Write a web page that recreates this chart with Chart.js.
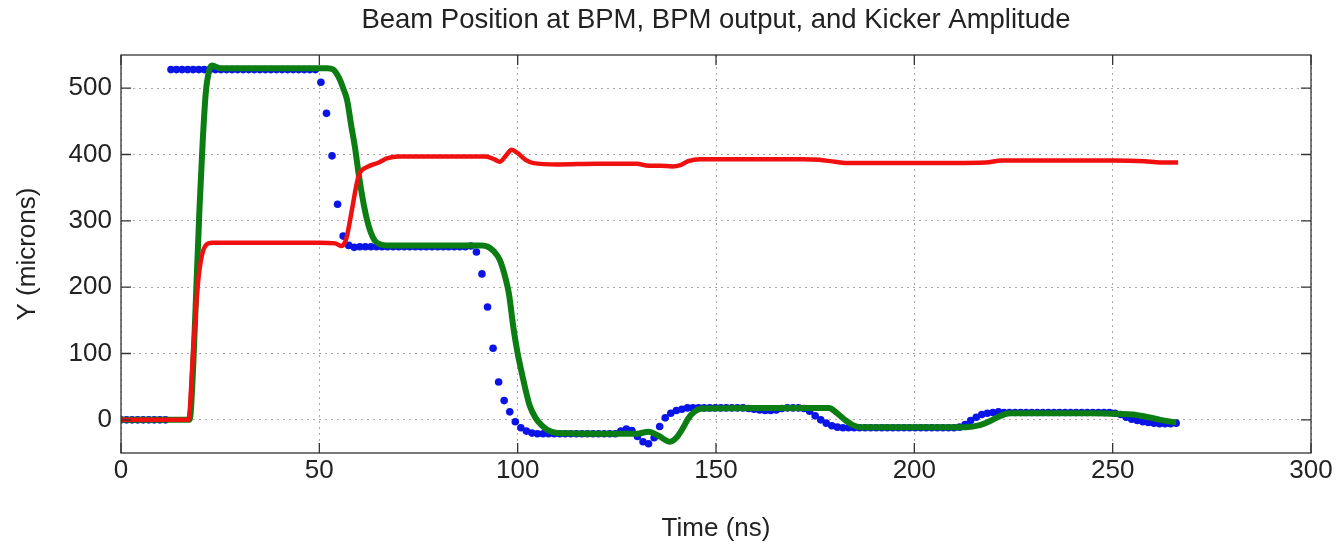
<!DOCTYPE html>
<html>
<head>
<meta charset="utf-8">
<title>Beam Position at BPM, BPM output, and Kicker Amplitude</title>
<script src="https://cdn.jsdelivr.net/npm/chart.js@4.4.1/dist/chart.umd.min.js"></script>
<style>
  html, body { margin: 0; padding: 0; background: #fff; }
  #wrap { width: 1341px; height: 547px; }
</style>
</head>
<body>
<div id="wrap"><canvas id="grafica" width="1341" height="547"></canvas></div>
<script>
// Ejes
const xTicks = [0, 50, 100, 150, 200, 250, 300];
const yTicks = [0, 100, 200, 300, 400, 500];

// Kicker (rojo, linea)
const rojoT = [0, 17.0, 18.2, 19.4, 20.4, 21.5, 23, 30, 40, 50, 54, 55.5, 56.5, 57, 58.2, 59.5, 60.2, 62, 65, 67, 70, 80, 92,
  94, 95.5, 97, 98.5, 100, 102, 104, 110, 120, 130, 133, 136, 139, 141, 143, 146, 155, 165, 172, 176, 180, 184,
  200, 218, 222, 230, 240, 250, 258, 262, 266.5];
const rojoY = [0, 0, 105, 206, 248, 264, 267, 267, 267, 267, 266, 262, 268, 278, 316, 358, 372, 381, 388, 394, 397, 397, 397,
  393, 389, 398, 407, 402, 392, 387, 385, 386, 386, 383, 383, 382, 384, 390, 393, 393, 393, 393, 392, 389, 387,
  387, 388, 391, 391, 391, 391, 390, 388, 388];

// Posicion del haz (verde, linea)
const verdeT = [0, 17.3, 18.2, 19, 19.8, 20.6, 21.4, 22.3, 23, 25, 40, 52, 53.5, 55, 56, 57, 58, 59, 60, 61, 62, 63, 64, 65.5, 67,
  80, 91, 92.5, 94, 95.5, 97, 97.8, 98.9, 100, 100.7, 102, 103, 104.5, 106, 107.5, 110, 120, 130, 133, 135.5, 138.4, 140,
  141.7, 143, 144.5, 146.5, 160, 170, 178.5, 180.5, 182.5, 184.5, 186.5, 200, 213, 216.5, 219, 221, 224, 235, 245, 251,
  255, 259, 262, 266];
const verdeY = [0, 0, 80, 200, 320, 420, 495, 528, 534, 530, 530, 530, 528, 515, 500, 482, 445, 410, 367, 331, 302, 282, 270, 264, 263,
  263, 263, 261, 254, 241, 212, 190, 140, 100, 80, 45, 22, 3, -8, -15, -20, -21, -21, -18, -24, -33, -27,
  -12, 2, 12, 17, 18, 18, 18, 10, 0, -8, -11, -11, -11, -8, -2, 4, 10, 10, 10, 9,
  8, 4, 0, -4];

// Salida del BPM (azul, puntos muestreados)
const azulT = [
  0, 1.4, 2.8, 4.2, 5.6, 7.0, 8.4, 9.8, 11.2, 12.6,
  14.0, 15.4, 16.8, 18.2, 19.6, 21.0, 22.4, 23.8, 25.2, 26.6,
  28.0, 29.4, 30.8, 32.2, 33.6, 35.0, 36.4, 37.8, 39.2, 40.6,
  42.0, 43.4, 44.8, 46.2, 47.6, 49.0, 50.4, 51.8, 53.2, 54.6,
  56.0, 57.4, 58.8, 60.2, 61.6, 63.0, 64.4, 65.8, 67.2, 68.6,
  70.0, 71.4, 72.8, 74.2, 75.6, 77.0, 78.4, 79.8, 81.2, 82.6,
  84.0, 85.4, 86.8, 88.2, 89.6, 91.0, 92.4, 93.8, 95.2, 96.6,
  98.0, 99.4, 100.8, 102.2, 103.6, 105.0, 106.4, 107.8, 109.2, 110.6,
  112.0, 113.4, 114.8, 116.2, 117.6, 119.0, 120.4, 121.8, 123.2, 124.6,
  126.0, 127.4, 128.8, 130.2, 131.6, 133.0, 134.4, 135.8, 137.2, 138.6,
  140.0, 141.4, 142.8, 144.2, 145.6, 147.0, 148.4, 149.8, 151.2, 152.6,
  154.0, 155.4, 156.8, 158.2, 159.6, 161.0, 162.4, 163.8, 165.2, 166.6,
  168.0, 169.4, 170.8, 172.2, 173.6, 175.0, 176.4, 177.8, 179.2, 180.6,
  182.0, 183.4, 184.8, 186.2, 187.6, 189.0, 190.4, 191.8, 193.2, 194.6,
  196.0, 197.4, 198.8, 200.2, 201.6, 203.0, 204.4, 205.8, 207.2, 208.6,
  210.0, 211.4, 212.8, 214.2, 215.6, 217.0, 218.4, 219.8, 221.2, 222.6,
  224.0, 225.4, 226.8, 228.2, 229.6, 231.0, 232.4, 233.8, 235.2, 236.6,
  238.0, 239.4, 240.8, 242.2, 243.6, 245.0, 246.4, 247.8, 249.2, 250.6,
  252.0, 253.4, 254.8, 256.2, 257.6, 259.0, 260.4, 261.8, 263.2, 264.6,
  266.0];
const azulY = [
  0, 0, 0, 0, 0, 0, 0, 0, 0, 528,
  528, 528, 528, 528, 528, 528, 528, 528, 528, 528,
  528, 528, 528, 528, 528, 528, 528, 528, 528, 528,
  528, 528, 528, 528, 528, 528, 509, 462, 398, 325,
  277, 263, 260, 261, 261, 261, 261, 261, 261, 261,
  261, 261, 261, 261, 261, 261, 261, 261, 261, 261,
  261, 261, 261, 262, 253, 220, 170, 108, 57, 29,
  12, -3, -12, -17, -20, -21, -21, -21, -21, -21,
  -21, -21, -21, -21, -21, -21, -21, -21, -21, -21,
  -17, -14, -16, -25, -33, -36, -27, -10, 3, 10,
  14, 16, 18, 18, 18, 18, 18, 18, 18, 18,
  18, 18, 18, 17, 16, 15, 14, 14, 15, 17,
  18, 18, 18, 17, 13, 6, 0, -5, -9, -11,
  -12, -12, -12, -12, -12, -12, -12, -12, -12, -12,
  -12, -12, -12, -12, -12, -12, -12, -12, -12, -12,
  -12, -11, -7, -1, 4, 8, 10, 11, 12, 11,
  11, 11, 11, 11, 11, 11, 11, 11, 11, 11,
  11, 11, 11, 11, 11, 11, 11, 11, 11, 10,
  8, 4, 1, -1, -3, -4, -5, -6, -6, -6,
  -5];

const fuente = "'Liberation Sans', Arial, sans-serif";
const pares = (ts, ys) => ts.map((t, i) => ({ x: t, y: ys[i] }));

// Marco de ejes con marcas hacia dentro (estilo MATLAB)
const marcoEjes = {
    id: 'marcoEjes',
    afterDatasetsDraw(chart) {
        const { ctx, chartArea: a, scales: { x, y } } = chart;
        ctx.save();
        ctx.strokeStyle = '#333';
        ctx.lineWidth = 1.3;
        ctx.strokeRect(a.left, a.top, a.right - a.left, a.bottom - a.top);
        ctx.beginPath();
        xTicks.forEach(v => {
            const px = x.getPixelForValue(v);
            ctx.moveTo(px, a.bottom); ctx.lineTo(px, a.bottom - 10);
            ctx.moveTo(px, a.top); ctx.lineTo(px, a.top + 10);
        });
        yTicks.forEach(v => {
            const py = y.getPixelForValue(v);
            ctx.moveTo(a.left, py); ctx.lineTo(a.left + 10, py);
            ctx.moveTo(a.right, py); ctx.lineTo(a.right - 10, py);
        });
        ctx.stroke();
        ctx.restore();
    }
};

const rejilla = { color: '#a8a8a8', lineWidth: 1, drawTicks: false };
const bordePunteado = { display: false, dash: [2, 4] };

new Chart(document.getElementById('grafica').getContext('2d'), {
    type: 'scatter',
    data: {
        datasets: [
            {
                label: 'Kicker',
                data: pares(rojoT, rojoY),
                showLine: true,
                borderColor: '#f01010',
                borderWidth: 4.5,
                pointRadius: 0,
                cubicInterpolationMode: 'monotone',
            },
            {
                label: 'Beam',
                data: pares(verdeT, verdeY),
                showLine: true,
                borderColor: '#0b7d12',
                borderWidth: 6,
                pointRadius: 0,
                cubicInterpolationMode: 'monotone',
            },
            {
                label: 'BPM',
                data: pares(azulT, azulY),
                showLine: false,
                pointRadius: 3.8,
                pointBorderWidth: 0,
                pointBackgroundColor: '#0a14e6',
                pointBorderColor: '#0a14e6',
            },
        ],
    },
    options: {
        responsive: false,
        animation: false,
        devicePixelRatio: 1,
        layout: { padding: { left: 0, right: 30, top: 0, bottom: 0 } },
        plugins: {
            legend: { display: false },
            tooltip: { enabled: false },
        },
        scales: {
            x: {
                type: 'linear',
                min: 0,
                max: 300,
                afterBuildTicks: s => { s.ticks = xTicks.map(v => ({ value: v })); },
                afterFit: s => { s.height = 94; },
                grid: rejilla,
                border: bordePunteado,
                ticks: { color: '#222', font: { family: fuente, size: 26 }, padding: 2, maxRotation: 0, autoSkip: false },
                title: {
                    display: true,
                    text: 'Time (ns)',
                    color: '#222',
                    font: { family: fuente, size: 26 },
                    padding: { top: 0, bottom: 3 },
                },
            },
            // eje superior solo para centrar el titulo sobre el area del grafico
            xTitulo: {
                type: 'linear',
                position: 'top',
                min: 0,
                max: 300,
                afterFit: s => { s.height = 55; },
                grid: { display: false, drawTicks: false },
                border: { display: false },
                ticks: { display: false },
                title: {
                    display: true,
                    text: 'Beam Position at BPM, BPM output, and Kicker Amplitude',
                    color: '#222',
                    font: { family: fuente, size: 27.5 },
                    padding: { top: 3.5, bottom: 0 },
                },
            },
            y: {
                min: -50,
                max: 550,
                afterBuildTicks: s => { s.ticks = yTicks.map(v => ({ value: v })); },
                afterFit: s => { s.width = 121; },
                grid: rejilla,
                border: bordePunteado,
                ticks: { color: '#222', font: { family: fuente, size: 26 }, padding: 9, autoSkip: false },
                title: {
                    display: true,
                    text: 'Y (microns)',
                    color: '#222',
                    font: { family: fuente, size: 26 },
                    padding: { top: 12, bottom: 0 },
                },
            },
        },
    },
    plugins: [marcoEjes],
});
</script>
</body>
</html>
